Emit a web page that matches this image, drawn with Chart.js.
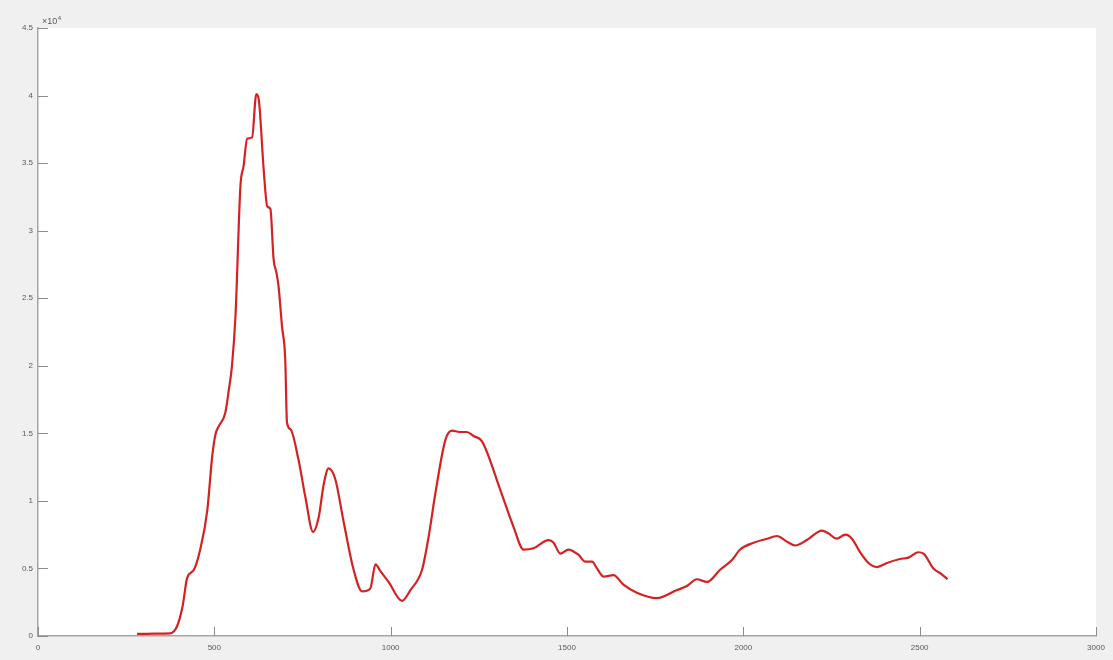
<!DOCTYPE html>
<html>
<head>
<meta charset="utf-8">
<script src="https://cdn.jsdelivr.net/npm/chart.js@4"></script>
<style>
  html, body { margin: 0; padding: 0; background: #f0f0f0; }
  #wrap { width: 1113px; height: 660px; }
</style>
</head>
<body>
<div id="wrap"><canvas id="myChart"></canvas></div>
<script>
// x positions and y values (in units of 10^4)
const xValues = [
  281, 330, 375, 394, 410, 423, 442, 460, 480, 494, 503, 512, 531, 541, 550, 560,
  574, 583, 593, 607, 619, 626, 640, 650, 659, 668, 676, 682, 692, 701, 706, 716,
  739, 758, 780, 796, 810, 824, 843, 867, 895, 919, 942, 957, 971, 994, 1032, 1056,
  1089, 1108, 1127, 1155, 1174, 1195, 1216, 1235, 1259, 1311, 1348, 1377, 1405, 1448,
  1462, 1481, 1504, 1533, 1552, 1571, 1585, 1604, 1632, 1660, 1698, 1755, 1812, 1840,
  1868, 1897, 1934, 1967, 1991, 2029, 2067, 2095, 2123, 2147, 2180, 2223, 2241, 2265,
  2289, 2308, 2331, 2355, 2379, 2407, 2444, 2468, 2496, 2511, 2539, 2561, 2579
];
const yValues = [
  0.015, 0.018, 0.02, 0.07, 0.22, 0.43, 0.49, 0.64, 0.93, 1.33, 1.49, 1.55, 1.65, 1.82, 2.0, 2.37,
  3.33, 3.48, 3.68, 3.69, 4.01, 3.97, 3.45, 3.18, 3.16, 2.79, 2.69, 2.59, 2.29, 2.05, 1.58, 1.53,
  1.30, 1.03, 0.77, 0.88, 1.12, 1.24, 1.16, 0.84, 0.49, 0.33, 0.35, 0.53, 0.48, 0.40, 0.26, 0.34,
  0.49, 0.74, 1.06, 1.45, 1.52, 1.51, 1.51, 1.48, 1.44, 1.08, 0.81, 0.64, 0.65, 0.71,
  0.69, 0.61, 0.64, 0.60, 0.55, 0.55, 0.50, 0.44, 0.45, 0.38, 0.32, 0.28, 0.34, 0.37,
  0.42, 0.40, 0.49, 0.56, 0.64, 0.69, 0.72, 0.74, 0.70, 0.67, 0.71, 0.78, 0.76, 0.72,
  0.75, 0.72, 0.62, 0.54, 0.51, 0.54, 0.57, 0.58, 0.62, 0.61, 0.50, 0.46, 0.42
];
const xTicks = [0, 500, 1000, 1500, 2000, 2500, 3000];
const yTicks = [0, 0.5, 1, 1.5, 2, 2.5, 3, 3.5, 4, 4.5];
const yExponent = '4';

const points = xValues.map((x, i) => ({ x: x, y: yValues[i] }));

// white axes box, matlab style inward ticks and the x10^4 label
const axesPlugin = {
    id: 'axesPlugin',
    beforeDraw(chart) {
        const { ctx, chartArea: a } = chart;
        ctx.save();
        ctx.fillStyle = '#ffffff';
        ctx.fillRect(a.left, a.top, a.right - a.left, a.bottom - a.top);
        ctx.restore();
    },
    afterDraw(chart) {
        const { ctx, chartArea: a, scales } = chart;
        ctx.save();
        ctx.strokeStyle = '#8c8c8c';
        ctx.lineWidth = 1;
        ctx.beginPath();
        xTicks.forEach(v => {
            const px = Math.round(scales.x.getPixelForValue(v)) + 0.5;
            ctx.moveTo(px, a.bottom);
            ctx.lineTo(px, a.bottom - 9);
        });
        yTicks.forEach(v => {
            const py = Math.round(scales.y.getPixelForValue(v)) + 0.5;
            ctx.moveTo(a.left, py);
            ctx.lineTo(a.left + 10, py);
        });
        ctx.stroke();
        ctx.fillStyle = '#5a5a5a';
        ctx.font = '9px "Liberation Sans"';
        ctx.textBaseline = 'alphabetic';
        ctx.fillText('\u00d710', a.left + 4, a.top - 4);
        const w = ctx.measureText('\u00d710').width;
        ctx.font = '6px "Liberation Sans"';
        ctx.fillText(yExponent, a.left + 4 + w + 0.5, a.top - 8);
        ctx.restore();
    }
};

const ctx = document.getElementById('myChart').getContext('2d');
const chart = new Chart(ctx, {
    type: 'line',
    data: {
        datasets: [{
            data: points,
            borderColor: '#d42222',
            borderWidth: 2.2,
            pointRadius: 0,
            cubicInterpolationMode: 'monotone',
            fill: false
        }]
    },
    options: {
        responsive: true,
        maintainAspectRatio: false,
        animation: false,
        layout: { padding: { left: 0, top: 28, right: 17, bottom: 0 } },
        plugins: {
            legend: { display: false },
            tooltip: { enabled: false }
        },
        scales: {
            x: {
                type: 'linear',
                min: 0,
                max: 3000,
                afterBuildTicks: (scale) => { scale.ticks = xTicks.map(v => ({ value: v })); },
                afterFit: (scale) => { scale.height = 24; },
                grid: { display: false, drawTicks: false },
                border: { display: true, color: '#a6a6a6', width: 1.5 },
                ticks: {
                    padding: 7,
                    color: '#5a5a5a',
                    font: { family: 'Liberation Sans', size: 8 },
                    maxRotation: 0,
                    callback: (v) => String(v)
                }
            },
            y: {
                type: 'linear',
                min: 0,
                max: 4.5,
                afterBuildTicks: (scale) => { scale.ticks = yTicks.map(v => ({ value: v })); },
                afterFit: (scale) => { scale.width = 38; },
                grid: { display: false, drawTicks: false },
                border: { display: true, color: '#a6a6a6', width: 1.5 },
                ticks: {
                    padding: 5,
                    color: '#5a5a5a',
                    font: { family: 'Liberation Sans', size: 8 },
                    callback: (v) => String(v)
                }
            }
        }
    },
    plugins: [axesPlugin]
});
</script>
</body>
</html>
